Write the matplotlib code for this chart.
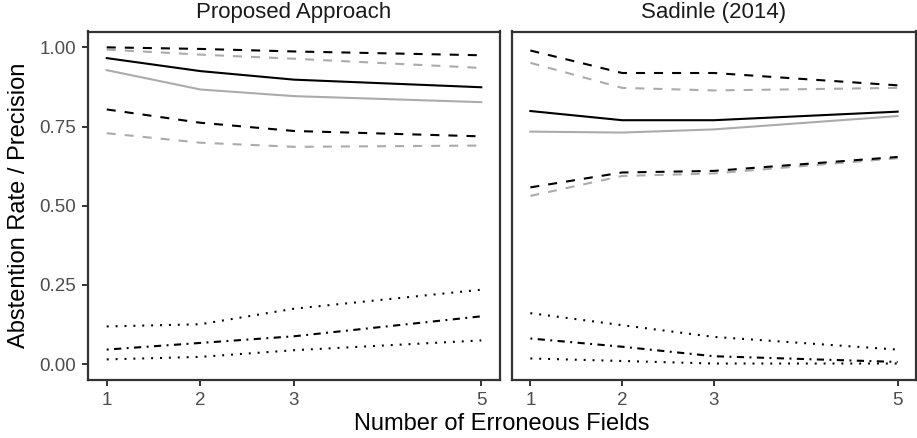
import matplotlib
matplotlib.use("Agg")
import matplotlib.pyplot as plt

plt.rcParams["font.family"] = ["Liberation Sans", "DejaVu Sans"]
plt.rcParams["lines.scale_dashes"] = False

fields = [1, 2, 3, 5]
panels = ["Proposed Approach", "Sadinle (2014)"]

# Precision (black) with interval bounds
prec_black = {
    "Proposed Approach": [0.966, 0.925, 0.898, 0.874],
    "Sadinle (2014)": [0.799, 0.770, 0.770, 0.797],
}
prec_black_hi = {
    "Proposed Approach": [1.000, 0.995, 0.987, 0.975],
    "Sadinle (2014)": [0.990, 0.919, 0.919, 0.880],
}
prec_black_lo = {
    "Proposed Approach": [0.804, 0.762, 0.736, 0.719],
    "Sadinle (2014)": [0.558, 0.605, 0.610, 0.654],
}
# Precision (gray) with interval bounds
prec_gray = {
    "Proposed Approach": [0.928, 0.867, 0.846, 0.827],
    "Sadinle (2014)": [0.734, 0.731, 0.741, 0.783],
}
prec_gray_hi = {
    "Proposed Approach": [0.993, 0.977, 0.964, 0.935],
    "Sadinle (2014)": [0.951, 0.872, 0.864, 0.872],
}
prec_gray_lo = {
    "Proposed Approach": [0.729, 0.699, 0.686, 0.690],
    "Sadinle (2014)": [0.531, 0.594, 0.602, 0.650],
}
# Abstention rate with interval bounds
abst = {
    "Proposed Approach": [0.046, 0.067, 0.088, 0.151],
    "Sadinle (2014)": [0.081, 0.055, 0.025, 0.007],
}
abst_hi = {
    "Proposed Approach": [0.119, 0.126, 0.175, 0.235],
    "Sadinle (2014)": [0.161, 0.123, 0.086, 0.046],
}
abst_lo = {
    "Proposed Approach": [0.015, 0.023, 0.044, 0.075],
    "Sadinle (2014)": [0.018, 0.010, 0.002, 0.002],
}

GRAY = "#ABABAB"
LW = 1.5
DASHED = (0, (6.5, 6.5))
DOTTED = (0, (1.4, 5.0))
DOTDASH = (0, (1.4, 3.9, 5.2, 3.9))

fig = plt.figure(figsize=(9.17, 4.38), dpi=100)
W, H = 917, 438
bottom, top = 380, 31.5
boxes = [(88, 500), (512, 916)]

for i, (name, (x0, x1)) in enumerate(zip(panels, boxes)):
    ax = fig.add_axes([x0 / W, 1 - bottom / H, (x1 - x0) / W, (bottom - top) / H])
    ax.plot(fields, prec_gray_hi[name], color=GRAY, lw=LW, linestyle=DASHED)
    ax.plot(fields, prec_gray_lo[name], color=GRAY, lw=LW, linestyle=DASHED)
    ax.plot(fields, prec_gray[name], color=GRAY, lw=LW)
    ax.plot(fields, prec_black_hi[name], color="black", lw=LW, linestyle=DASHED)
    ax.plot(fields, prec_black_lo[name], color="black", lw=LW, linestyle=DASHED)
    ax.plot(fields, prec_black[name], color="black", lw=LW)
    ax.plot(fields, abst_hi[name], color="black", lw=LW, linestyle=DOTTED)
    ax.plot(fields, abst_lo[name], color="black", lw=LW, linestyle=DOTTED)
    ax.plot(fields, abst[name], color="black", lw=LW, linestyle=DOTDASH)

    ax.set_xlim(0.8, 5.2)
    ax.set_ylim(-0.05, 1.05)
    ax.set_xticks(fields)
    ax.set_yticks([0, 0.25, 0.5, 0.75, 1.0])
    ax.set_yticklabels(["0.00", "0.25", "0.50", "0.75", "1.00"])
    for s in ax.spines.values():
        s.set_color("#333333")
        s.set_linewidth(1.6)
    ax.tick_params(colors="#333333", labelcolor="#4D4D4D", labelsize=13.5,
                   length=4, width=1.4, direction="out", pad=4.5)
    if i == 1:
        ax.tick_params(axis="y", left=False, labelleft=False)
    fig.text((x0 + x1) / 2 / W, 1 - 18 / H, name, ha="center", va="baseline",
             fontsize=16, color="#1A1A1A")

fig.text(19 / W, 1 - (bottom + top) / 2 / H, "Abstention Rate / Precision",
         ha="center", va="center", rotation=90, fontsize=17)
fig.text((88 + 916) / 2 / W, 1 - 424 / H, "Number of Erroneous Fields",
         ha="center", va="center", fontsize=17)

fig.savefig("out.png", dpi=100)
